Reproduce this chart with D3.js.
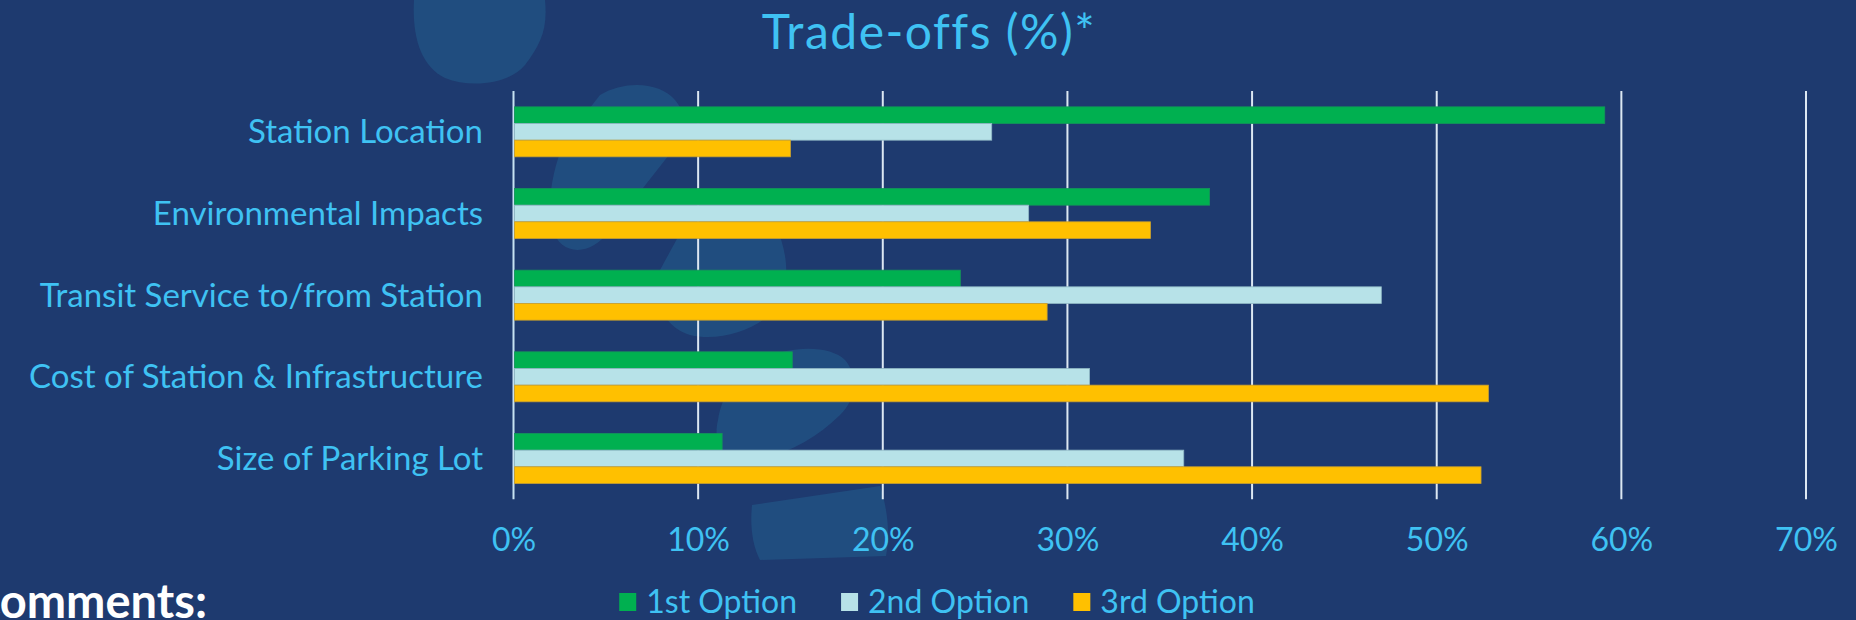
<!DOCTYPE html>
<html>
<head>
<meta charset="utf-8">
<script src="https://cdn.jsdelivr.net/npm/d3@7"></script>
<style>
  html, body { margin: 0; padding: 0; background: #1e3a6f; overflow: hidden; }
  svg { display: block; }
</style>
</head>
<body>
<div id="chart"></div>
<script>
const categories = [
  'Station Location',
  'Environmental Impacts',
  'Transit Service to/from Station',
  'Cost of Station & Infrastructure',
  'Size of Parking Lot'
];
const seriesNames = ['1st Option', '2nd Option', '3rd Option'];
const firstOption = [0.591, 0.377, 0.242, 0.151, 0.113];
const secondOption = [0.259, 0.279, 0.470, 0.312, 0.363];
const thirdOption = [0.150, 0.345, 0.289, 0.528, 0.524];
const tickValues = [0, 0.1, 0.2, 0.3, 0.4, 0.5, 0.6, 0.7];
const colors = ['#00b050', '#b7e2e8', '#ffc000'];
const strokes = ['#13965a', '#8fb7c4', '#c9a030'];

const width = 1856;
const height = 620;
const textColor = '#3fc2f3';
const font = 'Lato, "Open Sans", sans-serif';

const series = [firstOption, secondOption, thirdOption];

const svg = d3.select('#chart')
              .append('svg')
              .attr('width', width)
              .attr('height', height);

svg.append('rect')
   .attr('width', width)
   .attr('height', height)
   .attr('fill', '#1e3a6f');

// decorative background blobs from the slide
const blobs = [
  'M430,0 L545,0 C548,30 540,45 525,65 C508,85 470,88 445,78 C420,66 412,35 414,0 Z',
  'M600,95 C625,80 660,82 675,100 C690,118 685,135 665,160 L610,230 C590,258 560,255 553,230 C546,205 552,170 565,140 Z',
  'M690,215 C720,195 760,200 775,225 C790,255 790,290 775,310 C755,330 720,342 690,335 C665,328 650,300 660,270 Z',
  'M760,360 C790,345 830,345 845,360 C860,378 855,400 840,415 C815,440 780,458 745,462 C725,465 712,445 718,420 C722,395 735,375 760,360 Z',
  'M752,505 L880,486 C888,510 890,535 886,556 L760,560 C752,545 750,525 752,505 Z'
];
svg.append('g')
   .selectAll('path')
   .data(blobs)
   .join('path')
   .attr('d', d => d)
   .attr('fill', '#214e80')
   .attr('opacity', 0.95);

const xScale = d3.scaleLinear()
                 .domain([0, 0.7])
                 .range([513.5, 1806]);

const yScale = d3.scaleBand()
                 .domain(categories)
                 .range([91, 499.3])
                 .paddingInner(0.388)
                 .paddingOuter(0.194);

const subScale = d3.scaleBand()
                   .domain(seriesNames)
                   .range([0, yScale.bandwidth()]);

// gridlines
svg.append('g')
   .selectAll('line')
   .data(tickValues)
   .join('line')
   .attr('x1', d => xScale(d))
   .attr('x2', d => xScale(d))
   .attr('y1', 91)
   .attr('y2', 499.3)
   .attr('stroke', (d, i) => i === 0 ? '#c6e2f2' : '#dce7f2')
   .attr('stroke-width', 2);

// bars
const rows = [];
categories.forEach((c, ci) => {
  seriesNames.forEach((s, si) => {
    rows.push({ category: c, series: s, si: si, value: series[si][ci] });
  });
});

svg.append('g')
   .selectAll('rect')
   .data(rows)
   .join('rect')
   .attr('x', xScale(0) + 1)
   .attr('y', d => yScale(d.category) + subScale(d.series))
   .attr('width', d => xScale(d.value) - xScale(0) - 1)
   .attr('height', subScale.bandwidth())
   .attr('fill', d => colors[d.si])
   .attr('stroke', d => strokes[d.si])
   .attr('stroke-width', 0.8);

// category labels
svg.append('g')
   .selectAll('text')
   .data(categories)
   .join('text')
   .attr('x', 483)
   .attr('y', d => yScale(d) + yScale.bandwidth() / 2)
   .attr('dy', '0.35em')
   .attr('text-anchor', 'end')
   .attr('fill', textColor)
   .attr('font-family', font)
   .attr('font-weight', 400)
   .attr('font-size', 33)
   .text(d => d);

// x axis tick labels
const xAxis = d3.axisBottom(xScale)
                .tickValues(tickValues)
                .tickFormat(d3.format('.0%'))
                .tickSize(0)
                .tickPadding(0);

const axisG = svg.append('g')
                 .attr('transform', 'translate(0, 528)')
                 .call(xAxis);
axisG.select('.domain').remove();
axisG.selectAll('text')
     .attr('fill', textColor)
     .attr('font-family', font)
     .attr('font-weight', 400)
     .attr('font-size', 32);

// title
svg.append('text')
   .attr('x', 929)
   .attr('y', 49)
   .attr('text-anchor', 'middle')
   .attr('fill', textColor)
   .attr('font-family', font)
   .attr('font-weight', 400)
   .attr('font-size', 48)
   .attr('letter-spacing', 1.5)
   .text('Trade-offs (%)*');

// legend
const legend = svg.append('g');
const items = legend.selectAll('g')
                    .data(seriesNames)
                    .join('g');
items.append('rect')
     .attr('width', 17)
     .attr('height', 18)
     .attr('y', 593)
     .attr('fill', (d, i) => colors[i]);
items.append('text')
     .attr('x', 27)
     .attr('y', 613)
     .attr('fill', textColor)
     .attr('font-family', font)
     .attr('font-weight', 400)
     .attr('font-size', 32)
     .text(d => d);

let offset = 0;
const positions = [];
items.each(function () {
  const w = d3.select(this).select('text').node().getComputedTextLength();
  positions.push(offset);
  offset += 27 + w + 44;
});
const legendWidth = offset - 44;
const legendStart = 937 - legendWidth / 2;
items.attr('transform', (d, i) => 'translate(' + (legendStart + positions[i]) + ',0)');

// slide text, cut at the left edge as on the slide
svg.append('text')
   .attr('x', 207)
   .attr('y', 618)
   .attr('text-anchor', 'end')
   .attr('fill', '#ffffff')
   .attr('font-family', font)
   .attr('font-weight', 700)
   .attr('font-size', 47)
   .text('Comments:');
</script>
</body>
</html>
